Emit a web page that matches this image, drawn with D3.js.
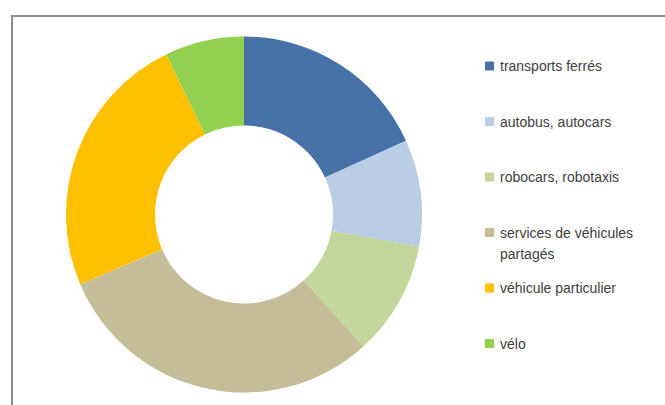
<html>
    <head>
        <script src="https://d3js.org/d3.v7.min.js"></script>
        <style>
            body { margin: 0; background: #fff; }
            text { font-family: "Liberation Sans Narrow", "Liberation Sans", sans-serif; fill: #404040; }
        </style>
    </head>
    <body>
        <svg width="665" height="405"></svg>
        <script>
            // values (share of the ring, %)
            let categories = ["transports ferrés", "autobus, autocars", "robocars, robotaxis",
                              "services de véhicules partagés", "véhicule particulier", "vélo"]
            let values = [18.2, 9.7, 10.4, 30.3, 24.2, 7.2]
            let colors = ["#4672A8", "#B9CDE5", "#C3D69B", "#C4BD97", "#FFC000", "#92D050"]
            // legend label lines (the long one wraps)
            let legendLines = [["transports ferrés"], ["autobus, autocars"], ["robocars, robotaxis"],
                               ["services de véhicules", "partagés"], ["véhicule particulier"], ["vélo"]]

            let svg = d3.select("svg")

            // chart frame
            svg.append("rect")
               .attr("x", 12).attr("y", 16)
               .attr("width", 700).attr("height", 450)
               .attr("fill", "#fff")
               .attr("stroke", "#8e8e8e")
               .attr("stroke-width", 2)

            let data = categories.map(function(c, i) { return {name: c, value: values[i]} })

            let color = d3.scaleOrdinal().domain(categories).range(colors)

            let pie = d3.pie().sort(null).value(function(d) { return d.value })
            let arc = d3.arc().innerRadius(89).outerRadius(178)

            let g = svg.append("g").attr("transform", "translate(244,214.5)")

            g.selectAll("path")
             .data(pie(data))
             .enter().append("path")
             .attr("d", arc)
             .attr("fill", function(d) { return color(d.data.name) })

            // legend
            let legendY = d3.scalePoint().domain(categories).range([66, 343.5])

            let lg = svg.selectAll(".legend")
                        .data(categories)
                        .enter().append("g")
                        .attr("class", "legend")
                        .attr("transform", function(d) { return "translate(485," + legendY(d) + ")" })

            lg.append("rect")
              .attr("x", 0).attr("y", -4.5)
              .attr("width", 9).attr("height", 9)
              .attr("fill", function(d) { return color(d) })

            lg.each(function(d, i) {
                let lines = legendLines[i]
                let t = d3.select(this).append("text")
                          .attr("x", 15)
                          .attr("font-size", 14)
                t.selectAll("tspan")
                 .data(lines)
                 .enter().append("tspan")
                 .attr("x", 15)
                 .attr("y", function(l, j) { return (lines.length > 1 ? -0 : 0) + j * 21 + 5 })
                 .text(function(l) { return l })
            })
        </script>
    </body>
</html>
